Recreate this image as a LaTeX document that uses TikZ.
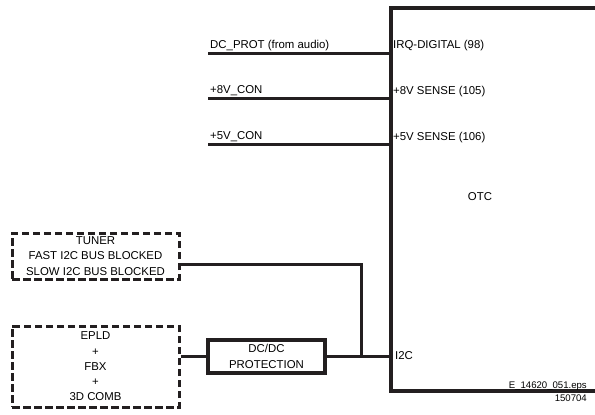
\documentclass[tikz,border=0pt]{standalone}
\usepackage{fontspec}
\setmainfont{Liberation Sans}
\usetikzlibrary{positioning, calc}
\definecolor{wireblack}{HTML}{231F20}

\tikzset{
  lbl/.style={inner sep=0pt, anchor=base west, font=\fontsize{11.4}{15.5}\selectfont},
  wire/.style={draw=wireblack, line width=3pt},
  solidbox/.style={draw=wireblack, line width=3.8pt, align=center, inner sep=0pt,
                   font=\fontsize{11.4}{15.5}\selectfont},
  dashbox/.style={draw=wireblack, line width=3pt, dash pattern=on 7.5pt off 3.5pt,
                  align=center, inner sep=0pt, minimum width=167pt,
                  font=\fontsize{11.4}{15.2}\selectfont},
}

\begin{document}
\begin{tikzpicture}[x=1pt, y=-1pt]
  \useasboundingbox (0,0) rectangle (595,415);

  %% OTC block (open to the right)
  \node[solidbox, anchor=north west, minimum width=240pt, minimum height=383pt]
    (otc) at (389,6) {};
  \node[lbl, anchor=base] (otcname) at (480,200) {OTC};

  %% pins of the OTC
  \node[lbl] (pinirq) at (393,48) {IRQ-DIGITAL (98)};
  \node[lbl] (pin8v)  at (393,94) {+8V SENSE (105)};
  \node[lbl] (pin5v)  at (393,140) {+5V SENSE (106)};
  \node[lbl] (pini2c) at (395,359) {I2C};

  %% incoming signals
  \coordinate (dcprot) at (208,53);
  \coordinate (con8v)  at (208,98);
  \coordinate (con5v)  at (208,144);
  \node[lbl] (dcprotlbl) at (210,48) {DC\_PROT (from audio)};
  \node[lbl] (con8vlbl)  at (210,93) {+8V\_CON};
  \node[lbl] (con5vlbl)  at (210,139) {+5V\_CON};
  \foreach \s in {dcprot, con8v, con5v} {
    \draw[wire] (\s) -- (\s -| otc.west);
  }

  %% left hand blocks
  \node[dashbox, minimum height=46pt] (tuner) at (95.5,256)
    {TUNER\\FAST I2C BUS BLOCKED\\SLOW I2C BUS BLOCKED};
  \node[dashbox, minimum height=81pt] (epld) at (95.5,366.5)
    {EPLD\\+\\FBX\\+\\3D COMB};
  \node[solidbox, minimum width=117pt, minimum height=33pt] (dcdc) at (266.5,356.5)
    {DC/DC\\PROTECTION};

  %% I2C bus
  \coordinate (tap) at (361,356.5);
  \draw[wire] (dcdc.west -| epld.east) -- (dcdc.west);
  \draw[wire] (dcdc.east) -- (dcdc.east -| otc.west);
  \draw[wire] ($(tuner.east)+(0,8)$) -| (tap);

  %% file reference
  \node[inner sep=0pt, anchor=base east, font=\fontsize{9.6}{12.5}\selectfont,
        align=right] (fileref) at (587,401) {E\_14620\_051.eps\\150704};
\end{tikzpicture}
\end{document}
